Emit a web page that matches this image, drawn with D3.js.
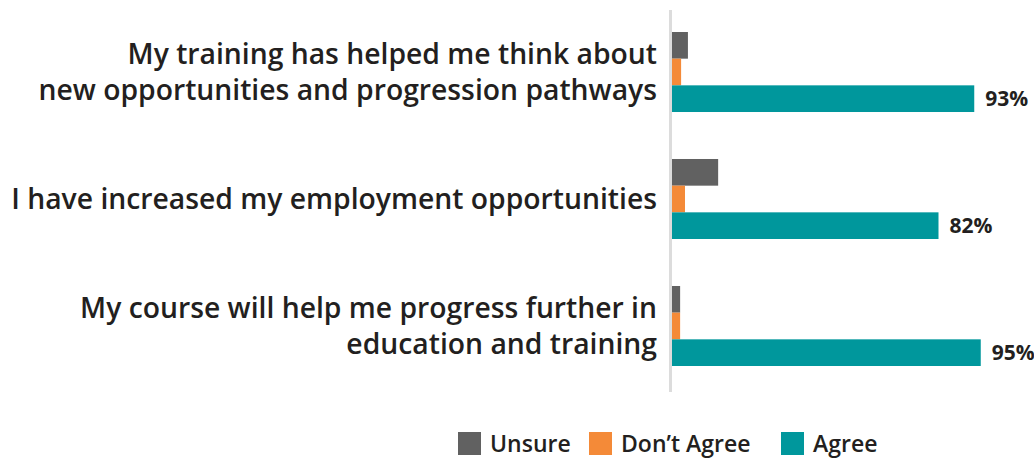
<!DOCTYPE html>
<html>
<head>
<meta charset="utf-8">
<script src="https://cdn.jsdelivr.net/npm/d3@7"></script>
<style>
  html, body { margin: 0; padding: 0; background: #ffffff; }
  svg { display: block; }
  text { font-family: "Open Sans", "Noto Sans", sans-serif; fill: #231f20; }
</style>
</head>
<body>
<svg id="chart" width="1034" height="459"></svg>
<script>
// Survey statements (each split over the lines it is drawn on)
const categories = [
  "My training has helped me think about|new opportunities and progression pathways",
  "I have increased my employment opportunities",
  "My course will help me progress further in|education and training"
];
const seriesNames = ["Unsure", "Don\u2019t Agree", "Agree"];
const unsure = [4.9, 14.2, 2.5];
const dontAgree = [2.8, 4.0, 2.5];
const agree = [93, 82, 95];
const colors = ["#616161", "#f48a38", "#00979c"];

const values = [unsure, dontAgree, agree];

const svg = d3.select("#chart");

const axisX = 672;
const x = d3.scaleLinear().domain([0, 100]).range([axisX, axisX + 325]);

const y0 = d3.scaleBand().domain(d3.range(categories.length))
  .range([32, 366]).paddingInner(0.37).paddingOuter(0);
const y1 = d3.scaleBand().domain(d3.range(seriesNames.length))
  .range([0, y0.bandwidth()]).padding(0);

// bars
const groups = svg.append("g").selectAll("g")
  .data(categories.map((c, i) => i))
  .join("g")
  .attr("transform", i => `translate(0,${y0(i)})`);

groups.selectAll("rect")
  .data(i => values.map((v, s) => ({ s, v: v[i] })))
  .join("rect")
  .attr("x", x(0))
  .attr("y", d => y1(d.s))
  .attr("width", d => x(d.v) - x(0))
  .attr("height", y1.bandwidth())
  .attr("fill", d => colors[d.s]);

// value labels on the Agree bars
groups.append("text")
  .attr("x", i => x(agree[i]) + 11)
  .attr("y", y1(2) + y1.bandwidth() / 2)
  .attr("dy", "0.36em")
  .style("font-size", "21px")
  .style("font-weight", 700)
  .text(i => agree[i] + "%");

// vertical axis line
svg.append("line")
  .attr("x1", axisX - 1.5).attr("x2", axisX - 1.5)
  .attr("y1", 10).attr("y2", 392)
  .attr("stroke", "#dcdcdc").attr("stroke-width", 3);

// category labels
const labelSize = 28.3;
const lineGap = 36;
const labels = svg.append("g").selectAll("text")
  .data(categories.map((c, i) => ({ lines: c.split("|"), i })))
  .join("text")
  .attr("text-anchor", "end")
  .style("font-size", labelSize + "px")
  .style("font-weight", 600);

labels.each(function(d) {
  const t = d3.select(this);
  const cy = y0(d.i) + y0.bandwidth() / 2;
  const n = d.lines.length;
  d.lines.forEach((ln, k) => {
    t.append("tspan")
      .attr("x", 657)
      .attr("y", cy + (k - (n - 1) / 2) * lineGap)
      .attr("dy", "0.36em")
      .text(ln);
  });
});

// legend
const legendX = [458, 589, 781];
const legend = svg.append("g").selectAll("g")
  .data(seriesNames.map((n, i) => ({ n, i })))
  .join("g")
  .attr("transform", d => `translate(${legendX[d.i]},432)`);
legend.append("rect")
  .attr("width", 23).attr("height", 23)
  .attr("fill", d => colors[d.i]);
legend.append("text")
  .attr("x", 32).attr("y", 12)
  .attr("dy", "0.34em")
  .style("font-size", "23px")
  .style("font-weight", 600)
  .text(d => d.n);
</script>
</body>
</html>
